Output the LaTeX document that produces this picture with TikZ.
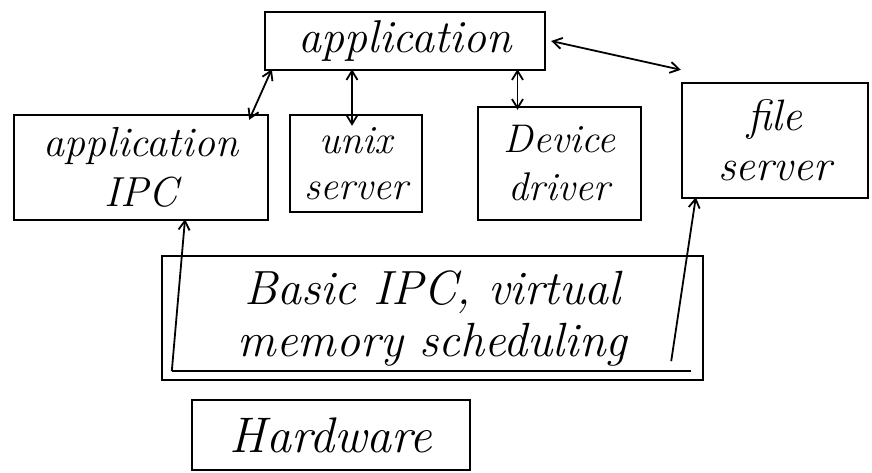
\documentclass[tikz,border=0pt]{standalone}
\usetikzlibrary{arrows.meta,calc}
\begin{document}
\begin{tikzpicture}[x=1pt,y=-1pt,
  box/.style={draw,line width=2.4pt,rectangle,inner sep=0pt,align=center},
  fs/.style 2 args={font=\fontsize{#1}{#2}\selectfont\itshape},
  link/.style={line width=1.8pt,{Straight Barb[length=9pt,width=11pt]}-{Straight Barb[length=9pt,width=11pt]}},
  uplink/.style={line width=1.8pt,-{Straight Barb[length=9pt,width=11pt]}}]
\useasboundingbox (0,0) rectangle (872,473);

% top-level application
\node[box,fs={46}{52},minimum width=280pt,minimum height=58pt] (app) at (405,41) {application};

% server row
\node[box,fs={42}{50},minimum width=254pt,minimum height=105pt] (ipc) at (141,167.5) {application\\IPC};
\node[box,fs={40}{46},minimum width=132pt,minimum height=97pt] (unix) at (356,163.5) {unix\\server};
\node[box,fs={40}{48},minimum width=163pt,minimum height=113pt] (dev) at (559.5,163.5) {Device\\driver};
\node[box,fs={44}{50},minimum width=186pt,minimum height=115pt] (fs) at (775,140.5) {file\\server};

% kernel layer
\node[box,fs={48}{52},minimum width=541pt,minimum height=124pt] (kern) at (432.5,318) {Basic IPC, virtual\\memory scheduling};
\coordinate (kin) at ($(kern.south west)+(11,-10)$);
\draw[line width=2.4pt] (kin) -- ($(kern.south east)+(-13,-10)$);

% hardware
\node[box,fs={50}{56},minimum width=278pt,minimum height=70pt] (hw) at (331,435) {Hardware};

% connections to the application
\draw[link] ([xshift=-20pt,yshift=-6pt]ipc.north east) -- ([xshift=8pt,yshift=2pt]app.south west);
\draw[link] ([xshift=-4pt,yshift=-12pt]unix.north) -- ([xshift=-4pt,yshift=2pt]unix.north |- app.south);
\draw[link] ([xshift=-42pt,yshift=-4pt]dev.north) -- ([xshift=-42pt,yshift=2pt]dev.north |- app.south);
\draw[link] ([xshift=5pt]app.east) -- ([yshift=12pt]fs.north west);

% kernel up to the servers
\draw[uplink] (kin) -- ([xshift=44pt,yshift=2pt]ipc.south);
\draw[uplink] ($(kern.south east)+(-33,-20)$) -- ([xshift=15pt,yshift=2pt]fs.south west);
\end{tikzpicture}
\end{document}
